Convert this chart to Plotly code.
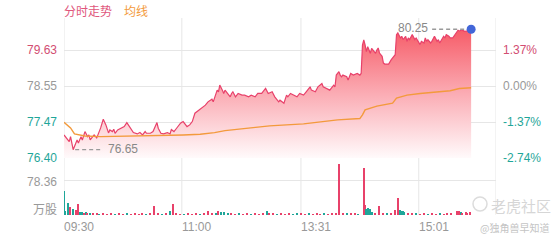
import plotly.graph_objects as go
import numpy as np

# ---------------- data ----------------
prev_close = 78.55
price_ticks = [76.40, 77.47, 78.55, 79.63]
price_tick_text = ["76.40", "77.47", "78.55", "79.63"]
pct_tick_text = ["-2.74%", "-1.37%", "0.00%", "1.37%"]
tick_colors = ["#1fa699", "#1fa699", "#999999", "#d24d72"]

time_ticks = [0, 90, 181, 271]
time_labels = ["09:30", "11:00", "13:31", "15:01"]
session_len = 330

price_minute = [0, 4, 5, 7, 10, 11, 13, 14, 16, 18, 19, 20, 23, 25, 28, 30, 32, 34, 35, 37,
                38, 39, 41, 43, 46, 48, 51, 53, 56, 58, 60, 62, 63, 66, 68, 71, 72, 74, 76, 79,
                80, 81, 82, 84, 86, 89, 91, 94, 96, 98, 100, 103, 105, 108, 110, 113, 114, 117, 118, 119,
                121, 122, 123, 126, 127, 128, 129, 131, 133, 136, 138, 141, 143, 146, 148, 151, 154, 156, 159, 161,
                164, 165, 168, 170, 171, 173, 175, 178, 180, 183, 185, 188, 189, 192, 194, 197, 198, 201, 203, 206,
                207, 208, 210, 211, 212, 213, 216, 217, 219, 221, 224, 226, 227, 228, 229, 230, 231, 232, 234, 235,
                238, 239, 240, 241, 243, 244, 245, 248, 249, 250, 253, 254, 255, 257, 258, 259, 261, 262, 263, 264,
                266, 267, 268, 269, 271, 272, 273, 275, 276, 277, 278, 280, 281, 282, 283, 285, 286, 287, 289, 290,
                291, 292, 294, 295, 297, 299, 300, 301, 302, 304, 305, 306, 309, 311]
price = [77.09, 76.89, 77.04, 76.65, 76.94, 76.85, 77.04, 76.94, 77.19, 77.04, 77.09, 76.94, 77.09, 77.00, 77.30, 77.56, 77.39, 77.15, 77.24, 77.19,
         77.26, 77.14, 77.24, 77.29, 77.34, 77.46, 77.29, 77.16, 77.12, 77.16, 77.09, 77.19, 77.14, 77.14, 77.19, 77.46, 77.29, 77.14, 77.12, 77.16,
         77.14, 77.12, 77.25, 77.19, 77.29, 77.44, 77.49, 77.34, 77.39, 77.49, 77.74, 77.84, 77.89, 77.98, 78.08, 78.16, 78.08, 78.43, 78.38, 78.58,
         78.43, 78.33, 78.43, 78.25, 78.23, 78.33, 78.38, 78.23, 78.33, 78.28, 78.28, 78.23, 78.28, 78.23, 78.33, 78.33, 78.48, 78.33, 78.38, 78.23,
         78.08, 78.13, 78.04, 78.28, 78.23, 78.33, 78.28, 78.23, 78.33, 78.28, 78.38, 78.53, 78.43, 78.38, 78.53, 78.63, 78.53, 78.48, 78.43, 78.58,
         78.53, 78.88, 78.98, 78.88, 78.83, 78.88, 78.83, 78.73, 78.93, 78.88, 78.93, 78.88, 78.93, 79.78, 79.93, 79.78, 79.58, 79.73, 79.53, 79.68,
         79.53, 79.63, 79.69, 79.54, 79.44, 79.24, 79.21, 79.21, 79.29, 79.34, 79.49, 80.09, 80.14, 79.99, 80.04, 79.94, 80.04, 79.89, 79.99, 79.94,
         80.09, 79.99, 79.94, 79.99, 79.87, 79.79, 79.89, 79.84, 79.99, 79.89, 79.94, 79.84, 79.89, 79.99, 80.04, 79.89, 79.94, 79.84, 79.99, 80.04,
         79.99, 80.09, 80.04, 79.99, 79.99, 80.09, 80.14, 80.22, 80.20, 80.23, 80.21, 80.19, 80.20, 80.25]

avg_minute = [0, 5, 8, 16, 28, 50, 73, 91, 104, 115, 123, 142, 157, 183, 209, 226, 228, 230, 239, 251, 254, 262, 272, 295, 302, 311]
avg_price = [77.47, 77.30, 77.12, 77.06, 77.04, 77.05, 77.07, 77.09, 77.11, 77.16, 77.22, 77.31, 77.36, 77.42, 77.54, 77.58, 77.69, 77.84, 77.95, 78.04, 78.19, 78.28, 78.33, 78.41, 78.48, 78.50]

vol_minute = [0, 1, 3, 5, 7, 9, 11, 12, 14, 15, 17, 18, 20, 22, 25, 27, 30, 33, 36, 39,
              42, 45, 48, 51, 54, 57, 60, 63, 66, 69, 72, 75, 78, 81, 83, 86, 89, 92, 95, 98,
              101, 104, 107, 110, 113, 116, 118, 120, 122, 125, 128, 131, 134, 137, 140, 143, 146, 149, 152, 155,
              157, 160, 163, 166, 169, 172, 175, 178, 181, 184, 187, 190, 193, 196, 199, 202, 205, 208, 210, 213,
              216, 219, 222, 225, 229, 230, 231, 232, 233, 234, 235, 238, 241, 244, 247, 250, 253, 255, 257, 258,
              259, 260, 263, 266, 269, 272, 275, 278, 281, 284, 287, 290, 293, 296, 300, 301, 302, 303, 304, 307,
              308, 310]
vol_value = [54, 10, 26, 19, 13, 11, 25, 6, 7, 5, 6, 4, 5, 4, 3, 2, 3, 2, 3, 2,
             3, 2, 3, 2, 3, 2, 3, 2, 3, 20, 3, 2, 3, 9, 25, 3, 2, 2, 3, 2,
             3, 2, 3, 9, 4, 5, 8, 7, 6, 4, 3, 2, 3, 2, 3, 2, 3, 2, 3, 9,
             4, 3, 2, 3, 2, 3, 2, 5, 3, 2, 3, 2, 3, 2, 3, 2, 3, 4, 114, 4,
             3, 4, 3, 2, 105, 22, 13, 15, 11, 13, 6, 4, 20, 5, 3, 4, 11, 37, 11, 9,
             10, 6, 5, 3, 4, 2, 3, 2, 3, 2, 3, 2, 3, 4, 8, 10, 9, 6, 5, 7,
             4, 6]
vol_up = [0, 0, 0, 1, 0, 1, 1, 0, 0, 1, 0, 1, 0, 1, 1, 0, 1, 1, 1, 0,
          1, 1, 0, 1, 1, 1, 1, 0, 1, 1, 1, 0, 1, 0, 1, 1, 1, 0, 1, 1,
          1, 0, 1, 1, 1, 0, 1, 0, 0, 0, 1, 1, 0, 1, 1, 0, 1, 1, 1, 0,
          1, 1, 0, 1, 1, 1, 0, 0, 1, 1, 0, 1, 1, 1, 0, 1, 1, 1, 1, 1,
          0, 1, 1, 0, 1, 1, 0, 0, 0, 0, 0, 1, 1, 1, 0, 1, 1, 1, 0, 0,
          0, 0, 1, 1, 0, 1, 1, 0, 1, 1, 0, 1, 1, 1, 1, 1, 1, 0, 1, 1,
          1, 1]
vol_tick = 78.36
vol_top = 118.66

# ---------------- styling ----------------
RED = "#e8416a"
TEAL = "#1fa699"
ORANGE = "#f39a3c"
GRID = "#e6e6e6"
GRAY = "#999999"
FONT = "Liberation Sans, Arial, sans-serif"
CJK = "Noto Sans CJK SC, sans-serif"

fig = go.Figure()

fig.add_trace(go.Scatter(
    x=price_minute, y=price, mode="lines",
    line=dict(color=RED, width=1.2),
    fill="tozeroy",
    fillgradient=dict(type="vertical",
                      colorscale=[[0, "rgba(255,250,251,1)"], [0.5, "rgba(251,172,180,1)"], [1, "rgba(246,92,104,1)"]],
                      start=price_ticks[0], stop=max(price)),
    xaxis="x", yaxis="y", hoverinfo="skip", showlegend=False))

fig.add_trace(go.Scatter(
    x=avg_minute, y=avg_price, mode="lines",
    line=dict(color=ORANGE, width=1.4),
    xaxis="x", yaxis="y", hoverinfo="skip", showlegend=False))

i_max = int(np.argmax(price))
i_min = int(np.argmin(price))
fig.add_trace(go.Scatter(
    x=[price_minute[-1]], y=[price[-1]], mode="markers",
    marker=dict(color="#4266d8", size=9),
    xaxis="x", yaxis="y", hoverinfo="skip", showlegend=False))

fig.add_trace(go.Bar(
    x=vol_minute, y=vol_value, width=0.9,
    marker=dict(color=[RED if u else TEAL for u in vol_up], line=dict(width=0)),
    xaxis="x2", yaxis="y2", hoverinfo="skip", showlegend=False))

# layout geometry: plot area 64..496 x 18..215
fig.update_layout(
    width=560, height=240,
    margin=dict(l=64, r=64, t=18, b=25),
    paper_bgcolor="white", plot_bgcolor="white",
    font=dict(family=FONT, size=12, color=GRAY),
    bargap=0,
    xaxis=dict(domain=[0, 1], range=[0, session_len], showgrid=False, zeroline=False,
               showticklabels=False, showline=False, fixedrange=True),
    yaxis=dict(domain=[0.2893, 1], range=[price_ticks[0], 80.587], tickvals=price_ticks,
               showticklabels=False, showgrid=True, gridcolor=GRID, gridwidth=1,
               zeroline=False, showline=False),
    xaxis2=dict(domain=[0, 1], range=[0, session_len], anchor="y2", showgrid=False,
                zeroline=False, showticklabels=False, showline=False),
    yaxis2=dict(domain=[0, 0.269], range=[0, vol_top], tickvals=[vol_tick], anchor="x2",
                showticklabels=False, showgrid=True, gridcolor=GRID, zeroline=False, showline=False),
)

shapes = []
for t in time_ticks + [session_len]:
    shapes.append(dict(type="line", xref="x", yref="paper", x0=t, x1=t, y0=0, y1=1,
                       line=dict(color=GRID, width=1), layer="below"))
# dashed pointer lines to max / min
shapes.append(dict(type="line", xref="x", yref="y", xsizemode="pixel", xanchor=price_minute[i_max],
                   x0=-39, x1=-5, y0=price[i_max], y1=price[i_max],
                   line=dict(color="#9a9a9a", width=1.3, dash="4px,3px")))
shapes.append(dict(type="line", xref="x", yref="y", xsizemode="pixel", xanchor=price_minute[i_min],
                   x0=2, x1=29, y0=price[i_min], y1=price[i_min],
                   line=dict(color="#9a9a9a", width=1.3, dash="4px,3px")))
# watermark icon
shapes.append(dict(type="circle", xref="paper", yref="paper",
                   x0=(473 - 64) / 432, x1=(487 - 64) / 432,
                   y0=(215 - 211) / 197, y1=(215 - 197) / 197,
                   line=dict(color="#dcdcdc", width=1.5)))
fig.update_layout(shapes=shapes)

ann = []
for v, txt, pct, col in zip(price_ticks, price_tick_text, pct_tick_text, tick_colors):
    ann.append(dict(x=0, xref="paper", y=v, yref="y", text=txt, showarrow=False,
                    xanchor="right", yanchor="middle", xshift=-5, font=dict(color=col, size=12, family=FONT)))
    ann.append(dict(x=1, xref="paper", y=v, yref="y", text=pct, showarrow=False,
                    xanchor="left", yanchor="middle", xshift=5, font=dict(color=col, size=12, family=FONT)))
ann.append(dict(x=0, xref="paper", y=vol_tick, yref="y2", text=f"{vol_tick:.2f}", showarrow=False,
                xanchor="right", yanchor="middle", xshift=-5, yshift=-2, font=dict(color=GRAY, size=12, family=FONT)))
ann.append(dict(x=0, xref="paper", y=0, yref="y2", text="万股", showarrow=False,
                xanchor="right", yanchor="bottom", xshift=-5, yshift=-4, font=dict(color=GRAY, size=12, family=CJK)))
for t, lab in zip(time_ticks, time_labels):
    ann.append(dict(x=t, xref="x", y=0, yref="paper", text=lab, showarrow=False,
                    xanchor="left", yanchor="middle", xshift=-2, yshift=-12, font=dict(color=GRAY, size=12, family=FONT)))
# legend
ann.append(dict(x=0, xref="paper", y=1, yref="paper", text="分时走势", showarrow=False,
                xanchor="left", yanchor="middle", xshift=-2, yshift=8, font=dict(color="#e0567c", size=12, family=CJK)))
ann.append(dict(x=0, xref="paper", y=1, yref="paper", text="均线", showarrow=False,
                xanchor="left", yanchor="middle", xshift=58, yshift=8, font=dict(color=ORANGE, size=12, family=CJK)))
# max / min labels
ann.append(dict(x=price_minute[i_max], xref="x", y=price[i_max], yref="y", text=f"{price[i_max]:.2f}",
                showarrow=False, xanchor="right", yanchor="middle", xshift=-41, yshift=1,
                font=dict(color="#888888", size=12, family=FONT)))
ann.append(dict(x=price_minute[i_min], xref="x", y=price[i_min], yref="y", text=f"{price[i_min]:.2f}",
                showarrow=False, xanchor="left", yanchor="middle", xshift=33, yshift=1,
                font=dict(color="#888888", size=12, family=FONT)))
# watermark
ann.append(dict(x=1, xref="paper", y=0, yref="paper", text="老虎社区", showarrow=False,
                xanchor="left", yanchor="middle", xshift=-7, yshift=10, font=dict(color="#d6d6d6", size=15, family=CJK)))
ann.append(dict(x=1, xref="paper", y=0, yref="paper", text="@独角兽早知道", showarrow=False,
                xanchor="left", yanchor="middle", xshift=-18, yshift=-12, font=dict(color="#c4c4c4", size=10, family=CJK)))
fig.update_layout(annotations=ann)

fig.write_html("out.html", config={"displayModeBar": False})
